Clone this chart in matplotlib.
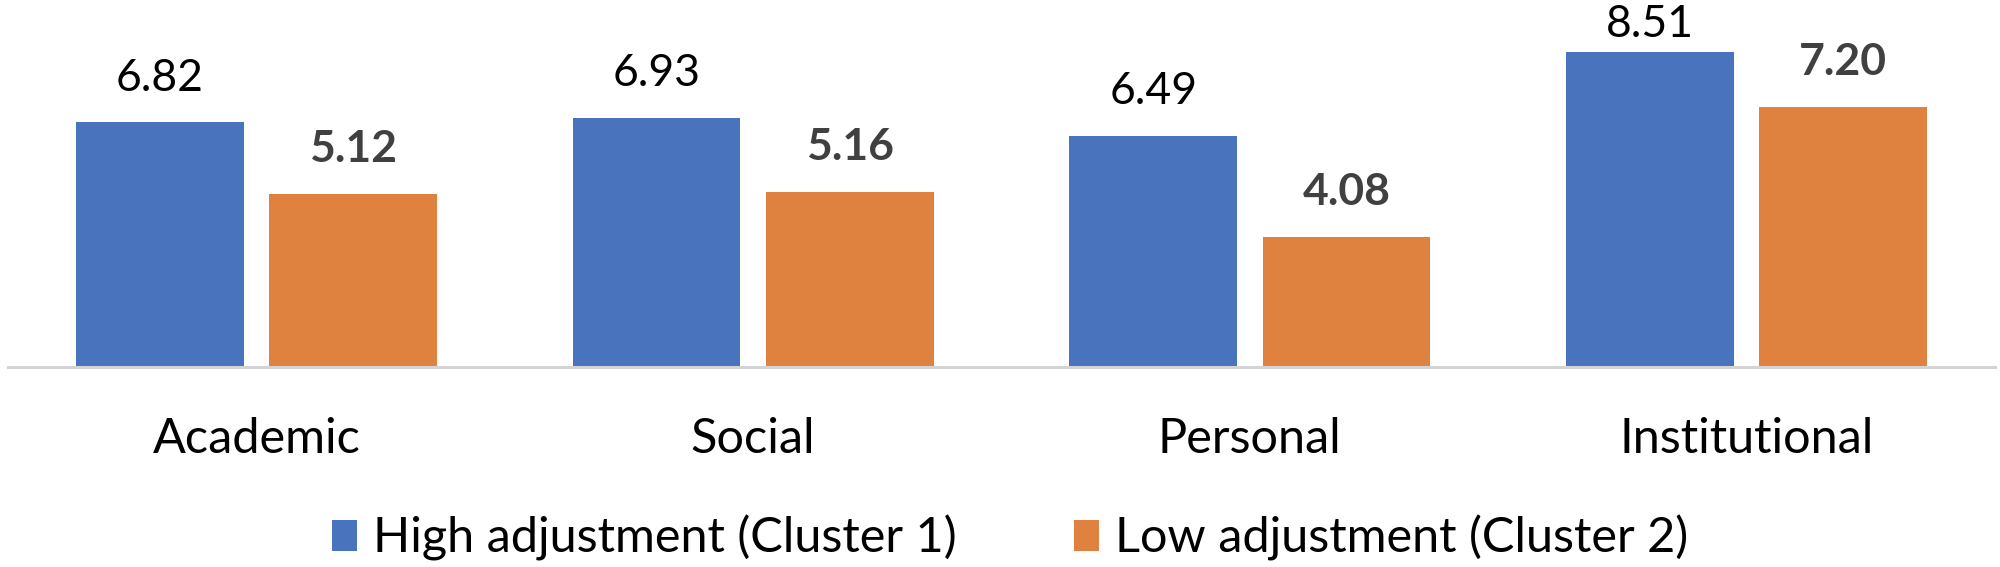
import matplotlib
matplotlib.use("Agg")
import matplotlib.pyplot as plt
from matplotlib.patches import Patch
import numpy as np

categories = ["Academic", "Social", "Personal", "Institutional"]
high_adj = [6.82, 6.93, 6.49, 8.51]
low_adj = [5.12, 5.16, 4.08, 7.20]
series_names = ["High adjustment (Cluster 1)", "Low adjustment (Cluster 2)"]

BLUE = "#4A73BE"
ORANGE = "#E0823F"

plt.rcParams['font.family'] = ['Lato', 'DejaVu Sans']

FIG_W, FIG_H, DPI = 20, 5.67, 100
fig = plt.figure(figsize=(FIG_W, FIG_H), dpi=DPI)
ax = fig.add_axes([0.004, 1 - 367 / 567, 0.9935, 367 / 567])

x = np.arange(len(categories))
w = 0.338
off = 0.1945
ax.bar(x - off, high_adj, width=w, color=BLUE)
ax.bar(x + off, low_adj, width=w, color=ORANGE)

ax.set_xlim(-0.5, 3.5)
ax.set_ylim(0.97, 9.75)

LABEL_PT = 32
GAP_PT = 23
fig_h_px = FIG_H * DPI
text_h_px = 0.73 * LABEL_PT * DPI / 72


def offset_for(xv, v):
    # keep label inside figure (like Excel does)
    _, ypx = ax.transData.transform((xv, v))
    max_base = fig_h_px - 5 - text_h_px
    gap_px = min(GAP_PT * DPI / 72, max_base - ypx)
    return gap_px * 72 / DPI


for xi, v in zip(x - off, high_adj):
    ax.annotate(f"{v:.2f}", xy=(xi, v), xytext=(0, offset_for(xi, v)), textcoords="offset points",
                ha="center", va="baseline", fontsize=LABEL_PT, color="black")
for xi, v in zip(x + off, low_adj):
    ax.annotate(f"{v:.2f}", xy=(xi, v), xytext=(0, offset_for(xi, v)), textcoords="offset points",
                ha="center", va="baseline", fontsize=LABEL_PT, color="#404040", fontweight="bold")

ax.set_yticks([])
ax.set_xticks(x)
ax.set_xticklabels(categories, fontsize=35)
ax.tick_params(axis="x", length=0, pad=36)
for s in ["top", "right", "left"]:
    ax.spines[s].set_visible(False)
ax.spines["bottom"].set_color("#D4D4D4")
ax.spines["bottom"].set_linewidth(2.2)
ax.set_facecolor("none")

handles = [Patch(facecolor=BLUE), Patch(facecolor=ORANGE)]
fig.legend(handles, series_names, loc="center", bbox_to_anchor=(0.505, 1 - 538 / 567),
           ncol=2, frameon=False, fontsize=35, handlelength=0.52, handleheight=0.6,
           handletextpad=0.33, columnspacing=2.4)

fig.savefig("out.png", dpi=DPI, facecolor="white")
